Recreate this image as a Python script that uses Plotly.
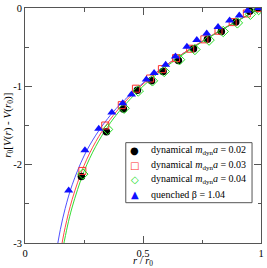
import plotly.graph_objects as go

# fitted curves
curve_x_b = [0.13, 0.15, 0.17, 0.2, 0.25, 0.3, 0.35, 0.4, 0.5, 0.6, 0.7, 0.8, 0.9, 1.0]
curve_y_b = [-3.162, -2.825, -2.562, -2.257, -1.889, -1.623, -1.413, -1.240, -0.958, -0.725, -0.522, -0.338, -0.165, 0.0]
curve_x_r = [0.15, 0.17, 0.2, 0.25, 0.3, 0.35, 0.4, 0.5, 0.6, 0.7, 0.8, 0.9, 1.0]
curve_y_r = [-3.119, -2.804, -2.442, -2.012, -1.705, -1.469, -1.277, -0.971, -0.728, -0.520, -0.333, -0.161, 0.0]
curve_x_g = [0.16, 0.18, 0.2, 0.25, 0.3, 0.35, 0.4, 0.5, 0.6, 0.7, 0.8, 0.9, 1.0]
curve_y_g = [-3.080, -2.783, -2.541, -2.087, -1.765, -1.517, -1.317, -0.999, -0.746, -0.531, -0.340, -0.165, 0.0]

# data points
x_002 = [0.239, 0.345, 0.417, 0.476, 0.536, 0.585, 0.650, 0.714, 0.773, 0.832, 0.893, 0.952, 0.985]
y_002 = [-2.15, -1.58, -1.29, -1.05, -0.93, -0.81, -0.67, -0.52, -0.40, -0.30, -0.18, -0.04, -0.01]
x_003 = [0.243, 0.34, 0.41, 0.47, 0.53, 0.58, 0.64, 0.70, 0.76, 0.82, 0.88, 0.94, 0.99]
y_003 = [-2.08, -1.50, -1.24, -1.03, -0.90, -0.78, -0.64, -0.52, -0.40, -0.29, -0.18, -0.07, 0.0]
x_004 = [0.245, 0.35, 0.42, 0.48, 0.54, 0.59, 0.655, 0.72, 0.78, 0.84, 0.90, 0.955, 0.99]
y_004 = [-2.12, -1.55, -1.28, -1.06, -0.93, -0.81, -0.66, -0.53, -0.41, -0.30, -0.19, -0.08, -0.02]
x_q = [0.185, 0.254, 0.3125, 0.368, 0.414, 0.451, 0.514, 0.547, 0.596, 0.6375, 0.686, 0.728, 0.77, 0.818, 0.867, 0.908, 0.943, 0.99]
y_q = [-2.33, -1.815, -1.543, -1.333, -1.216, -1.103, -0.914, -0.83, -0.726, -0.62, -0.495, -0.41, -0.327, -0.243, -0.16, -0.097, -0.034, 0.0]

names = ["dynamical <i>m</i><sub>dyn</sub><i>a</i> = 0.02",
         "dynamical <i>m</i><sub>dyn</sub><i>a</i> = 0.03",
         "dynamical <i>m</i><sub>dyn</sub><i>a</i> = 0.04",
         "quenched β = 1.04"]
legend_symbols = ["●", "□", "◇", "▲"]
colors = ["black", "#ff3030", "#22dd22", "#1010ff"]

fig = go.Figure()
for cx, cy, col in [(curve_x_b, curve_y_b, "#5050ff"), (curve_x_r, curve_y_r, "#ff4a4a"), (curve_x_g, curve_y_g, "#33dd33")]:
    fig.add_trace(go.Scatter(x=cx, y=cy, mode="lines", line=dict(color=col, width=1, shape="spline"),
                             showlegend=False, hoverinfo="skip"))

fig.add_trace(go.Scatter(x=x_002, y=y_002, mode="markers", name=names[0], showlegend=False,
                         marker=dict(symbol="circle", size=7.5, color=colors[0])))
fig.add_trace(go.Scatter(x=x_003, y=y_003, mode="markers", name=names[1], showlegend=False,
                         marker=dict(symbol="square-open", size=7, color=colors[1], line=dict(width=1))))
fig.add_trace(go.Scatter(x=x_004, y=y_004, mode="markers", name=names[2], showlegend=False,
                         marker=dict(symbol="diamond-open", size=8, color=colors[2], line=dict(width=1))))
fig.add_trace(go.Scatter(x=x_q, y=y_q, mode="markers", name=names[3], showlegend=False,
                         marker=dict(symbol="triangle-up", size=8, color=colors[3])))

serif = "Liberation Serif"
axis_common = dict(showgrid=False, zeroline=False, showline=True, linecolor="#555", linewidth=1,
                   mirror="ticks", ticks="inside", ticklen=7, tickcolor="#555", tickwidth=1,
                   ticklabeloverflow="allow",
                   tickfont=dict(family=serif, size=10.5, color="black"))

fig.update_xaxes(range=[0, 1], tickvals=[0, 0.5, 1], ticktext=["0", "0.5", "1"],
                 minor=dict(tickvals=[0.25, 0.75], ticklen=3.5, ticks="inside", tickcolor="#555"),
                 **axis_common)
fig.update_yaxes(range=[-3, 0], tickvals=[0, -1, -2, -3], ticktext=["0", "-1", "-2", "-3"],
                 minor=dict(tickvals=[-0.5, -1.5, -2.5], ticklen=3.5, ticks="inside", tickcolor="#555"),
                 **axis_common)

# axis titles
fig.add_annotation(text="<i>r</i> / <i>r</i><sub>0</sub>", xref="paper", yref="paper",
                   x=0.5, y=-0.079, xanchor="center", yanchor="middle", showarrow=False,
                   font=dict(family=serif, size=10.5, color="black"))
fig.add_annotation(text="<i>r</i><sub>0</sub>[<i>V</i>(<i>r</i>) - <i>V</i>(<i>r</i><sub>0</sub>)]",
                   xref="paper", yref="paper", x=-0.075, y=0.5, xanchor="center", yanchor="middle",
                   textangle=-90, showarrow=False, font=dict(family=serif, size=11, color="black"))

# legend box
fig.add_shape(type="rect", xref="paper", yref="paper", x0=0.427, x1=0.962, y0=0.1715, y1=0.427,
              line=dict(color="#555", width=1), fillcolor="white", layer="above")
row_y = [0.393, 0.3305, 0.270, 0.205]
for i in range(4):
    fig.add_annotation(text=legend_symbols[i], xref="paper", yref="paper", x=0.464, y=row_y[i],
                       xanchor="center", yanchor="middle", showarrow=False,
                       font=dict(family="DejaVu Sans", size=10, color=colors[i]))
    fig.add_annotation(text=names[i], xref="paper", yref="paper", x=0.527, y=row_y[i],
                       xanchor="left", yanchor="middle", showarrow=False,
                       font=dict(family=serif, size=10, color="black"))

fig.update_layout(width=267, height=268, margin=dict(l=25, r=3, t=4, b=25),
                  plot_bgcolor="white", paper_bgcolor="white", showlegend=False)

fig.write_html("out.html", config={"displayModeBar": False},
               post_script="document.body.style.margin='0';document.body.style.overflow='hidden';")
